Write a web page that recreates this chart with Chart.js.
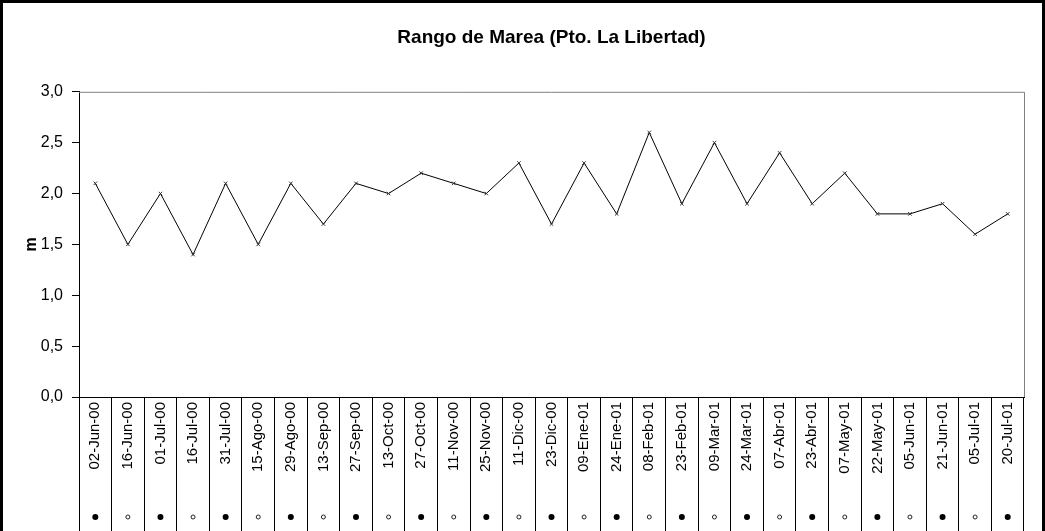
<!DOCTYPE html>
<html>
<head>
<meta charset="utf-8">
<script src="https://cdn.jsdelivr.net/npm/chart.js@4.4.0/dist/chart.umd.min.js"></script>
<style>
  html, body { margin: 0; padding: 0; background: #fff; }
  #frame { position: absolute; left: 0; top: 0; width: 1045px; height: 531px; box-sizing: border-box; border: 3px solid #000; border-bottom: none; background: #fff; }
  #wrap { width: 1039px; height: 528px; }
</style>
</head>
<body>
<div id="frame"><div id="wrap"><canvas id="chart"></canvas></div></div>
<script>
// fechas de las mediciones
const fechas = [
  '02-Jun-00', '16-Jun-00', '01-Jul-00', '16-Jul-00', '31-Jul-00', '15-Ago-00', '29-Ago-00',
  '13-Sep-00', '27-Sep-00', '13-Oct-00', '27-Oct-00', '11-Nov-00', '25-Nov-00', '11-Dic-00',
  '23-Dic-00', '09-Ene-01', '24-Ene-01', '08-Feb-01', '23-Feb-01', '09-Mar-01', '24-Mar-01',
  '07-Abr-01', '23-Abr-01', '07-May-01', '22-May-01', '05-Jun-01', '21-Jun-01', '05-Jul-01',
  '20-Jul-01'
];

// rango de marea (m)
const rango = [
  2.1, 1.5, 2.0, 1.4, 2.1, 1.5, 2.1, 1.7, 2.1, 2.0, 2.2, 2.1, 2.0, 2.3, 1.7,
  2.3, 1.8, 2.6, 1.9, 2.5, 1.9, 2.4, 1.9, 2.2, 1.8, 1.8, 1.9, 1.6, 1.8
];

// fase lunar: N = luna nueva (punto lleno), L = luna llena (punto vacio)
const fases = [
  'N', 'L', 'N', 'L', 'N', 'L', 'N', 'L', 'N', 'L', 'N', 'L', 'N', 'L', 'N',
  'L', 'N', 'L', 'N', 'L', 'N', 'L', 'N', 'L', 'N', 'L', 'N', 'L', 'N'
];

const yTicks = [0, 0.5, 1.0, 1.5, 2.0, 2.5, 3.0];

const FONT = "'Liberation Sans', Arial, sans-serif";

// marco gris arriba y a la derecha del area de datos
const marcoGris = {
  id: 'marcoGris',
  beforeDatasetsDraw(chart) {
    const { ctx, chartArea: a } = chart;
    ctx.save();
    ctx.strokeStyle = '#808080';
    ctx.lineWidth = 1;
    ctx.beginPath();
    ctx.moveTo(a.left, a.top + 0.5);
    ctx.lineTo(a.right + 0.5, a.top + 0.5);
    ctx.lineTo(a.right + 0.5, a.bottom);
    ctx.stroke();
    ctx.restore();
  }
};

// simbolos de fase lunar bajo cada fecha
const fasesLuna = {
  id: 'fasesLuna',
  afterDraw(chart) {
    const x = chart.scales.x;
    const ctx = chart.ctx;
    const y = x.bottom - 14;
    ctx.save();
    fases.forEach((f, i) => {
      const px = x.getPixelForValue(i);
      ctx.beginPath();
      if (f === 'N') {
        ctx.arc(px, y, 3, 0, Math.PI * 2);
        ctx.fillStyle = '#000';
        ctx.fill();
      } else {
        ctx.arc(px, y, 2, 0, Math.PI * 2);
        ctx.strokeStyle = '#222';
        ctx.lineWidth = 1;
        ctx.stroke();
      }
    });
    ctx.restore();
  }
};

new Chart(document.getElementById('chart'), {
  type: 'line',
  data: {
    labels: fechas,
    datasets: [{
      label: 'Rango',
      data: rango,
      borderColor: '#000',
      borderWidth: 1,
      tension: 0,
      pointStyle: 'crossRot',
      pointRadius: 2.5,
      pointBorderColor: '#333',
      pointBorderWidth: 1,
      pointHoverRadius: 2.5
    }]
  },
  options: {
    responsive: true,
    maintainAspectRatio: false,
    animation: false,
    layout: { padding: { left: 0, right: 18, top: 0, bottom: 0 } },
    plugins: {
      legend: { display: false },
      tooltip: { enabled: false },
      title: {
        display: true,
        fullSize: false,
        text: 'Rango de Marea (Pto. La Libertad)',
        color: '#000',
        font: { family: FONT, size: 19, weight: 'bold' },
        padding: { top: 23, bottom: 43 }
      }
    },
    scales: {
      x: {
        offset: true,
        grid: {
          offset: true,
          drawOnChartArea: false,
          drawTicks: true,
          tickLength: 140,
          color: '#000'
        },
        border: { color: '#000' },
        ticks: {
          autoSkip: false,
          minRotation: 90,
          maxRotation: 90,
          padding: -135,
          color: '#000',
          font: { family: FONT, size: 15 }
        },
        afterFit(scale) { scale.height = 134; }
      },
      y: {
        min: 0,
        max: 3,
        afterBuildTicks(scale) { scale.ticks = yTicks.map(v => ({ value: v })); },
        grid: { drawOnChartArea: false, tickLength: 7, color: '#000' },
        border: { color: '#000' },
        ticks: {
          padding: 9,
          color: '#000',
          font: { family: FONT, size: 16 },
          callback: v => v.toFixed(1).replace('.', ',')
        },
        title: {
          display: true,
          text: 'm',
          color: '#000',
          font: { family: FONT, size: 16, weight: 'bold' },
          padding: { top: 19, bottom: 0 }
        },
        afterFit(scale) { scale.width = 76; }
      }
    }
  },
  plugins: [marcoGris, fasesLuna]
});
</script>
</body>
</html>
